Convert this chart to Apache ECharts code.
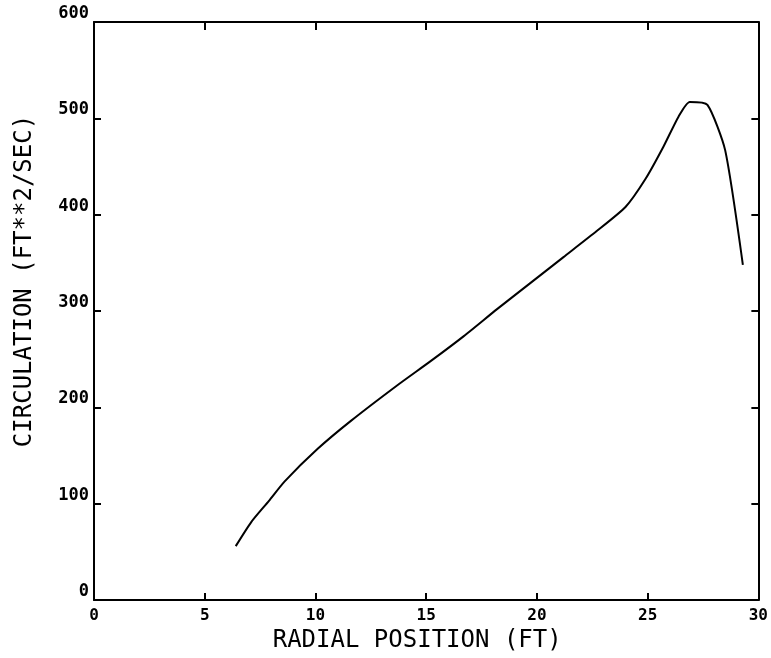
<!DOCTYPE html>
<html>
<head>
<meta charset="utf-8">
<script src="https://cdn.jsdelivr.net/npm/echarts@6/dist/echarts.min.js"></script>
<style>
  html, body { margin: 0; padding: 0; background: #fff; }
  #chart { width: 771px; height: 658px; }
</style>
</head>
<body>
<div id="chart"></div>
<script>
// Radial distribution of circulation along the blade
const radialPosition = [6.4, 7.1, 7.9, 8.6, 10.1, 11.6, 13.7, 15.2, 16.7, 18.2, 19.7, 21.2, 22.7, 24.0, 24.9, 25.7, 26.4, 26.9, 27.7, 28.5, 29.3];
const circulation    = [56, 81, 103, 123, 157, 186, 223, 248, 274, 302, 329, 356, 383, 408, 437, 470, 502, 517, 514, 467, 348];

const xTicks = [0, 5, 10, 15, 20, 25, 30];
const yTicks = [0, 100, 200, 300, 400, 500, 600];

const xTitle = 'RADIAL POSITION (FT)';
const yTitle = 'CIRCULATION (FT**2/SEC)';

const ink = '#000';
const labelFont = 'DejaVu Sans Mono';

const chart = echarts.init(document.getElementById('chart'), null, { renderer: 'canvas' });

// frame lines stay on their own edge of the grid
const frameLine = { show: true, onZero: false, lineStyle: { color: ink, width: 2 } };
const innerTick = (len) => ({ show: true, inside: true, length: len, lineStyle: { color: ink, width: 2 } });

chart.setOption({
  backgroundColor: '#fff',
  animation: false,
  grid: { left: 94, right: 8, top: 22, bottom: 45, containLabel: false },
  xAxis: [
    {
      type: 'value', position: 'bottom',
      min: xTicks[0], max: xTicks[xTicks.length - 1], interval: 5,
      axisLine: frameLine,
      axisTick: innerTick(7),
      splitLine: { show: false },
      axisLabel: {
        show: true, margin: 8, color: ink,
        fontFamily: labelFont, fontWeight: 'bold', fontSize: 16
      },
      name: xTitle, nameLocation: 'middle', nameGap: 25,
      nameTextStyle: { color: ink, fontFamily: labelFont, fontSize: 24, padding: [0, 18, 0, 0] }
    },
    {
      type: 'value', position: 'top',
      min: xTicks[0], max: xTicks[xTicks.length - 1], interval: 5,
      axisLine: frameLine,
      axisTick: innerTick(8),
      axisLabel: { show: false },
      splitLine: { show: false }
    }
  ],
  yAxis: [
    {
      type: 'value', position: 'left',
      min: yTicks[0], max: yTicks[yTicks.length - 1], interval: 100,
      axisLine: frameLine,
      axisTick: innerTick(7),
      splitLine: { show: false },
      axisLabel: {
        show: true, margin: 5, color: ink, verticalAlign: 'bottom',
        fontFamily: labelFont, fontWeight: 'bold', fontSize: 17
      }
    },
    {
      type: 'value', position: 'right',
      min: yTicks[0], max: yTicks[yTicks.length - 1], interval: 100,
      axisLine: frameLine,
      axisTick: innerTick(7),
      axisLabel: { show: false },
      splitLine: { show: false }
    }
  ],
  graphic: [
    {
      type: 'text',
      x: 25, y: 281,
      rotation: Math.PI / 2,
      style: {
        text: yTitle,
        fill: ink,
        font: '24px "DejaVu Sans Mono"',
        textAlign: 'center',
        textVerticalAlign: 'middle'
      }
    }
  ],
  series: [
    {
      type: 'line',
      xAxisIndex: 0, yAxisIndex: 0,
      data: radialPosition.map((r, i) => [r, circulation[i]]),
      showSymbol: false,
      smooth: 0.2,
      lineStyle: { color: ink, width: 2 }
    }
  ]
});
</script>
</body>
</html>
